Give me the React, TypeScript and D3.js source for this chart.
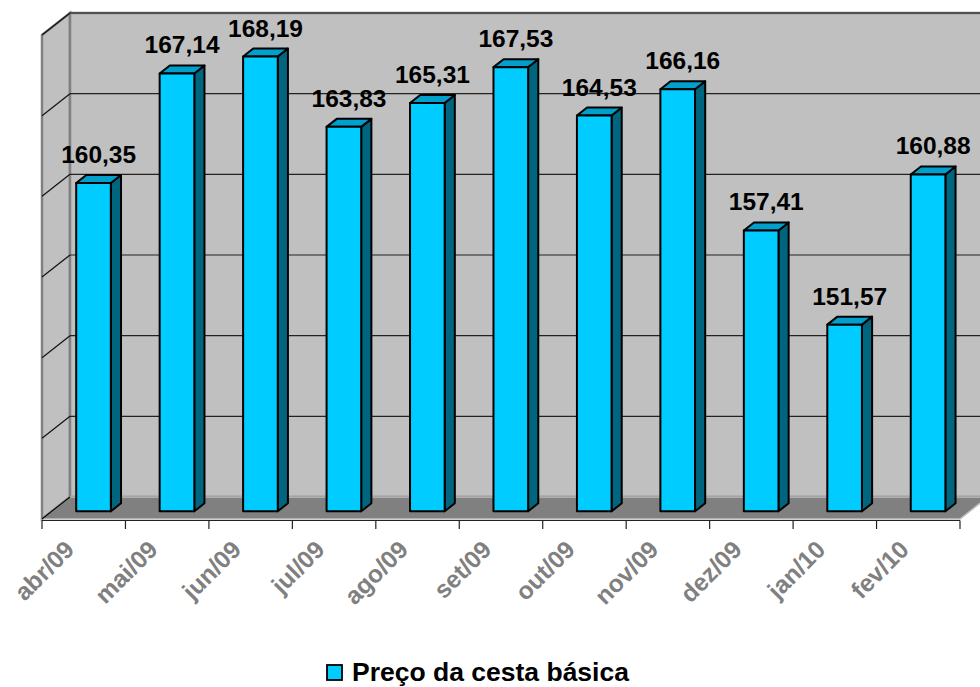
import React from "react";
import * as d3 from "d3";

const categories = ["abr/09", "mai/09", "jun/09", "jul/09", "ago/09", "set/09", "out/09", "nov/09", "dez/09", "jan/10", "fev/10"];
const values = [160.35, 167.14, 168.19, 163.83, 165.31, 167.53, 164.53, 166.16, 157.41, 151.57, 160.88];
const valueTicks = [140, 145, 150, 155, 160, 165, 170];
const seriesName = "Preço da cesta básica";

const W = 980;
const H = 687;
const DX = 28; // depth projection x
const DY = 22; // depth projection y
const FONT = "'Liberation Sans', Arial, Helvetica, sans-serif";

const fmt = (v: number) => v.toFixed(2).replace(".", ",");

export default function App() {
  const x = d3.scaleBand<string>().domain(categories).range([70, 988]).padding(0);
  const y = d3.scaleLinear().domain([140, 170]).range([497, 13]);
  const bw = x.bandwidth();
  const barW = bw * 0.415;
  const zF = 0.65;
  const zB = 0.287;
  const P = (xb: number, v: number, z: number): [number, number] => [xb - z * DX, y(v) + z * DY];
  const pts = (arr: [number, number][]) => arr.map((p) => p.join(",")).join(" ");

  const yTop = y.range()[1];
  const yBot = y.range()[0];
  const xL = x.range()[0];
  const xR = x.range()[1];

  return (
    <svg width={W} height={H} style={{ position: "absolute", left: 0, top: 0, background: "#fff" }}>
      {/* side wall */}
      <polygon
        points={pts([[xL - DX, yTop + DY], [xL, yTop], [xL, yBot], [xL - DX, yBot + DY]])}
        fill="#C0C0C0"
        stroke="#808080"
        strokeWidth={2.5}
      />
      {/* back wall */}
      <rect x={xL} y={yTop} width={xR - xL} height={yBot - yTop} fill="#C0C0C0" stroke="#808080" strokeWidth={2.5} />
      {/* gridlines */}
      {valueTicks.map((t) => (
        <g key={t}>
          <line x1={xL} x2={xR} y1={y(t)} y2={y(t)} stroke="#222" strokeWidth={1.2} />
          <line x1={xL - DX} x2={xL} y1={y(t) + DY} y2={y(t)} stroke="#111" strokeWidth={1.2} />
        </g>
      ))}
      {/* floor */}
      <polygon
        points={pts([[xL, yBot], [xR, yBot], [xR - DX, yBot + DY], [xL - DX, yBot + DY]])}
        fill="#808080"
        stroke="#C0C0C0"
        strokeWidth={1.5}
      />
      <line x1={xL} y1={yBot} x2={xL - DX} y2={yBot + DY} stroke="#000" strokeWidth={1.2} />
      {/* category axis */}
      <line x1={xL - DX} x2={xR - DX} y1={yBot + DY + 1.5} y2={yBot + DY + 1.5} stroke="#222" strokeWidth={1.2} />
      {categories.concat([""]).map((c, i) => {
        const tx = xL - DX + i * bw;
        return <line key={"t" + i} x1={tx} x2={tx} y1={yBot + DY + 1.5} y2={yBot + DY + 10} stroke="#222" strokeWidth={1.2} />;
      })}
      {/* bars */}
      {categories.map((c, i) => {
        const v = values[i];
        const cx = (x(c) as number) + bw / 2;
        const x0 = cx - barW / 2;
        const x1 = cx + barW / 2;
        const front = [P(x0, v, zF), P(x1, v, zF), P(x1, 140, zF), P(x0, 140, zF)] as [number, number][];
        const top = [P(x0, v, zF), P(x0, v, zB), P(x1, v, zB), P(x1, v, zF)] as [number, number][];
        const side = [P(x1, v, zF), P(x1, v, zB), P(x1, 140, zB), P(x1, 140, zF)] as [number, number][];
        const lx = cx - ((zF + zB) / 2) * DX;
        const ly = y(v) + zB * DY - 12;
        return (
          <g key={c}>
            <polygon points={pts(side)} fill="#006680" stroke="#000" strokeWidth={2} strokeLinejoin="round" />
            <polygon points={pts(top)} fill="#009FCC" stroke="#000" strokeWidth={2} strokeLinejoin="round" />
            <polygon points={pts(front)} fill="#00CCFF" stroke="#000" strokeWidth={2} strokeLinejoin="round" />
            <text x={lx} y={ly} textAnchor="middle" fontFamily={FONT} fontWeight="bold" fontSize={24.5} fill="#000">
              {fmt(v)}
            </text>
          </g>
        );
      })}
      {/* category labels */}
      {categories.map((c) => {
        const cx = (x(c) as number) + bw / 2 - DX;
        const ax = cx - 8;
        const ay = yBot + DY + 32;
        return (
          <text
            key={"l" + c}
            x={ax}
            y={ay}
            transform={`rotate(-45 ${ax} ${ay})`}
            textAnchor="end"
            fontFamily={FONT}
            fontWeight="bold"
            fontSize={24.5}
            fill="#808080"
          >
            {c}
          </text>
        );
      })}
      {/* legend */}
      <rect x={327} y={665} width={15} height={15} fill="#00CCFF" stroke="#000" strokeWidth={1.8} />
      <text x={352} y={681} fontFamily={FONT} fontWeight="bold" fontSize={26.5} fill="#000">
        {seriesName}
      </text>
    </svg>
  );
}
